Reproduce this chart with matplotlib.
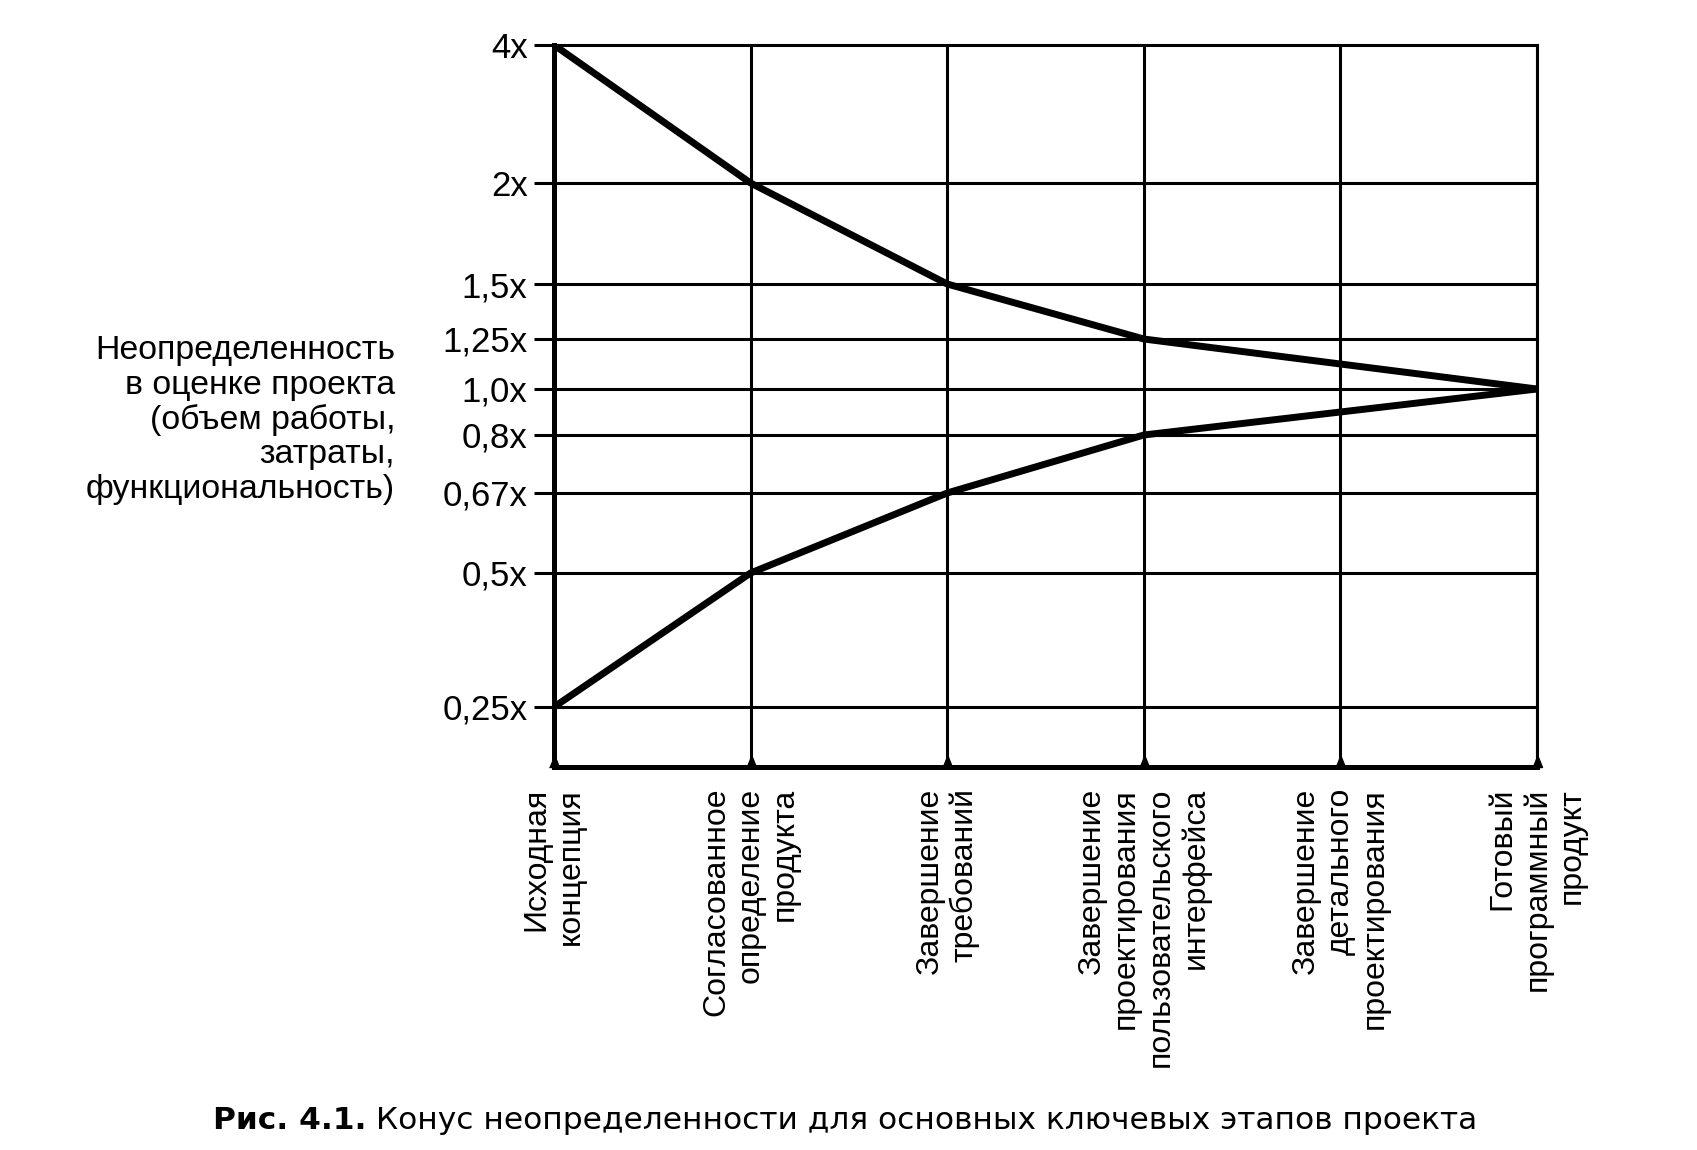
import numpy as np
import matplotlib
matplotlib.use('Agg')
import matplotlib.pyplot as plt

# Data
STAGES = ['Исходная\nконцепция',
          'Согласованное\nопределение\nпродукта',
          'Завершение\nтребований',
          'Завершение\nпроектирования\nпользовательского\nинтерфейса',
          'Завершение\nдетального\nпроектирования',
          'Готовый\nпрограммный\nпродукт']
UPPER = [4.0, 2.0, 1.5, 1.25, 1.125, 1.0]
LOWER = [0.25, 0.5, 0.67, 0.8, 0.9, 1.0]
YTICKS = [0.25, 0.5, 0.67, 0.8, 1.0, 1.25, 1.5, 2.0, 4.0]
YTICK_LABELS = ['0,25x', '0,5x', '0,67x', '0,8x', '1,0x', '1,25x', '1,5x', '2x', '4x']
YLABEL = 'Неопределенность\nв оценке проекта\n(объем работы,\nзатраты,\nфункциональность)'
CAP_BOLD = 'Рис. 4.1.'
CAP_TEXT = ' Конус неопределенности для основных ключевых этапов проекта'

# Layout: where each tick value sits on the (non-uniform) vertical axis
SCALE_VALS = np.array([0.0] + YTICKS)
SCALE_POS = np.array([0.0, 60, 194, 274, 332, 378, 428, 483, 584, 722])

def fwd(v):
    return np.interp(v, SCALE_VALS, SCALE_POS)

def inv(p):
    return np.interp(p, SCALE_POS, SCALE_VALS)

plt.rcParams['font.family'] = ['Liberation Sans', 'DejaVu Sans']

W, H = 1697, 1150
fig = plt.figure(figsize=(W/100.0, H/100.0), dpi=100, facecolor='w')
ax = fig.add_axes([554.0/W, 1-767.0/H, (1537.0-554.0)/W, (767.0-45.0)/H])
ax.set_yscale('function', functions=(fwd, inv))

x = np.arange(len(STAGES))
ax.set_xlim(0, len(STAGES)-1)
ax.set_ylim(0.0, 4.0)

# grid
for v in YTICKS:
    ax.axhline(v, color='k', lw=2.2, zorder=1, clip_on=False)
for i in x[1:]:
    ax.axvline(i, color='k', lw=2.2, zorder=1)
# small feet where the gridlines meet the bottom axis
foot = [(-0.4, 0.0), (0.4, 0.0), (0.0, 1.0)]
ax.plot(x, np.zeros(len(x)), ls='none', marker=foot, ms=18, color='k', clip_on=False, zorder=3)

# cone
ax.plot(x, UPPER, color='k', lw=5, solid_capstyle='round', solid_joinstyle='round', zorder=4)
ax.plot(x, LOWER, color='k', lw=5, solid_capstyle='round', solid_joinstyle='round', zorder=4)

ax.spines['right'].set_linewidth(2.2)
for side in ['left', 'bottom']:
    ax.spines[side].set_linewidth(3.6)
ax.spines['top'].set_visible(False)

ax.set_yticks(YTICKS)
ax.set_yticklabels(YTICK_LABELS, fontsize=25)
ax.yaxis.set_minor_locator(matplotlib.ticker.NullLocator())
ax.tick_params(axis='y', length=14.5, width=2.2, pad=4.5)
ax.set_xticks([])

for i, lab in enumerate(STAGES):
    ax.annotate(lab, xy=(i, 0), xycoords=('data', 'axes fraction'),
                xytext=(0, -15), textcoords='offset points',
                rotation=90, ha='center', va='top', multialignment='right',
                fontsize=23, linespacing=1.2, annotation_clip=False)

fig.text(395.0/W, 1-420.0/H, YLABEL, ha='right', va='center', multialignment='right',
         fontsize=24.4, linespacing=1.14)

t = fig.text(213.0/W, 1-1135.0/H, CAP_BOLD, ha='left', va='bottom', fontsize=22.5,
             fontweight='bold', family='DejaVu Sans')
ax.annotate(CAP_TEXT, xy=(1, 0), xycoords=t, ha='left', va='bottom', fontsize=22.5,
            family='DejaVu Sans', annotation_clip=False)

plt.savefig('out.png', dpi=100, facecolor='w')
